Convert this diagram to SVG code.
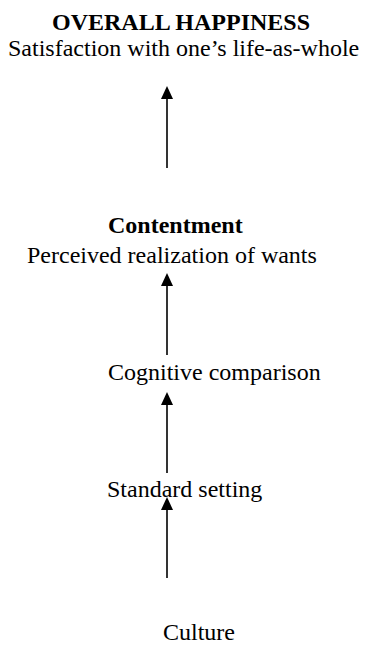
<svg xmlns="http://www.w3.org/2000/svg" width="369" height="649" viewBox="0 0 369 649">
  <style>
    text { font-family: "Liberation Serif", "Times New Roman", serif; font-size: 24px; fill: #000; }
    .b { font-weight: bold; }
    .edge { stroke: #000; stroke-width: 1.6; fill: none; }
  </style>
  <defs>
    <!-- arrowhead drawn along +x, rotated by orient="auto" to follow each line -->
    <marker id="head" viewBox="0 0 13 12" refX="1" refY="6" markerWidth="13" markerHeight="12" markerUnits="userSpaceOnUse" orient="auto">
      <path d="M0 0 L13 6 L0 12 Z" fill="#000"/>
    </marker>
  </defs>
  <rect width="369" height="649" fill="#fff"/>
  <g id="happiness">
    <text class="b" x="52" y="30">OVERALL HAPPINESS</text>
    <text x="8" y="56">Satisfaction with one’s life-as-whole</text>
  </g>
  <g id="contentment">
    <text class="b" x="108" y="233">Contentment</text>
    <text x="27" y="263">Perceived realization of wants</text>
  </g>
  <g id="comparison">
    <text x="108" y="380">Cognitive comparison</text>
  </g>
  <g id="standard">
    <text x="107" y="497">Standard setting</text>
  </g>
  <g id="culture">
    <text x="163" y="640">Culture</text>
  </g>
  <g id="connectors">
    <line class="edge" x1="167" y1="168" x2="167" y2="98" marker-end="url(#head)"/>
    <line class="edge" x1="167" y1="355" x2="167" y2="285" marker-end="url(#head)"/>
    <line class="edge" x1="167" y1="473" x2="167" y2="404" marker-end="url(#head)"/>
    <line class="edge" x1="167" y1="578" x2="167" y2="509" marker-end="url(#head)"/>
  </g>
</svg>
